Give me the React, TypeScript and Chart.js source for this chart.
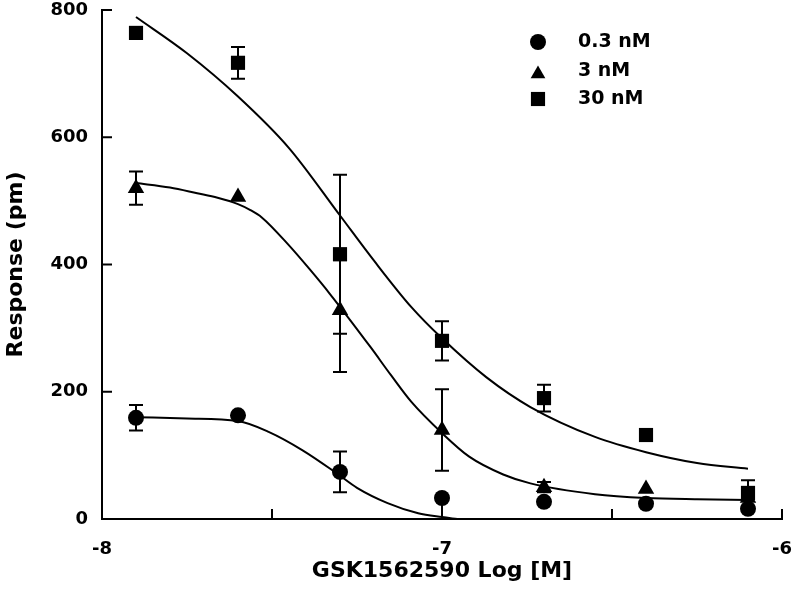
import React, { useEffect, useRef } from 'react';
import { Chart, registerables } from 'chart.js';

Chart.register(...registerables);

// ---- data ----
const doses = [-7.9, -7.6, -7.3, -7.0, -6.7, -6.4, -6.1];
const seriesLabels = ['0.3 nM', '3 nM', '30 nM'];

const resp03 = [159, 163, 74, 33, 27, 24, 16];
const errUp03 = [20, 0, 32, 0, 0, 0, 0];
const errDn03 = [20, 0, 32, 33, 0, 0, 0];

const resp3 = [520, 506, 328, 140, 50, 47, 33];
const errUp3 = [26, 0, 97, 64, 8, 0, 0];
const errDn3 = [26, 0, 97, 64, 8, 0, 0];

const resp30 = [764, 717, 416, 280, 190, 132, 41];
const errUp30 = [8, 25, 125, 31, 21, 6, 20];
const errDn30 = [8, 25, 125, 31, 21, 6, 20];

// fitted curves
const fitX03 = [-7.9, -7.75, -7.6, -7.51, -7.41, -7.31, -7.25, -7.16, -7.07, -7.0, -6.955];
const fitY03 = [160, 158, 154, 137, 108, 72, 49, 25, 9, 3, 0];
const fitX3 = [-7.9, -7.8, -7.72, -7.66, -7.6, -7.565, -7.53, -7.45, -7.39, -7.33, -7.21, -7.15, -7.09, -7.0, -6.92, -6.82, -6.74, -6.55, -6.4, -6.25, -6.1];
const fitY3 = [528, 521, 512, 505, 495, 486, 474, 430, 393, 354, 270, 226, 184, 135, 98, 70, 56, 39, 33, 31, 30];
const fitX30 = [-7.9, -7.75, -7.6, -7.45, -7.3, -7.2, -7.09, -7.0, -6.87, -6.74, -6.55, -6.4, -6.25, -6.1];
const fitY30 = [789, 732, 664, 583, 477, 406, 333, 284, 223, 176, 129, 105, 88, 79];

const xTicks = [-8, -7.5, -7, -6.5, -6];
const xTickLabels = ['-8', '', '-7', '', '-6'];
const yTicks = [0, 200, 400, 600, 800];
const yTickLabels = ['0', '200', '400', '600', '800'];

const FONT = 'DejaVu Sans';

const toPts = (xs: number[], ys: number[]) => xs.map((x, i) => ({ x, y: ys[i] }));

const errorBarsPlugin = {
  id: 'errorBars',
  beforeDatasetsDraw(chart: any) {
    const { ctx, scales } = chart;
    ctx.save();
    ctx.strokeStyle = '#000';
    ctx.lineWidth = 2;
    chart.data.datasets.forEach((ds: any) => {
      if (!ds.errUp) return;
      ds.data.forEach((p: any, i: number) => {
        const up = ds.errUp[i];
        const dn = ds.errDn[i];
        const px = scales.x.getPixelForValue(p.x);
        const ends: number[] = [];
        if (up > 0) ends.push(p.y + up);
        if (dn > 0) ends.push(p.y - dn);
        ends.forEach((v) => {
          const py0 = scales.y.getPixelForValue(p.y);
          const py1 = scales.y.getPixelForValue(v);
          ctx.beginPath();
          ctx.moveTo(px, py0);
          ctx.lineTo(px, py1);
          ctx.moveTo(px - 7, py1);
          ctx.lineTo(px + 7, py1);
          ctx.stroke();
        });
      });
    });
    ctx.restore();
  },
};

const innerTicksPlugin = {
  id: 'innerTicks',
  afterDraw(chart: any) {
    const { ctx, scales, chartArea } = chart;
    ctx.save();
    ctx.strokeStyle = '#000';
    ctx.lineWidth = 2;
    scales.x.ticks.forEach((t: any) => {
      const px = scales.x.getPixelForValue(t.value);
      ctx.beginPath();
      ctx.moveTo(px, chartArea.bottom);
      ctx.lineTo(px, chartArea.bottom - 10);
      ctx.stroke();
    });
    scales.y.ticks.forEach((t: any) => {
      const py = scales.y.getPixelForValue(t.value);
      ctx.beginPath();
      ctx.moveTo(chartArea.left, py);
      ctx.lineTo(chartArea.left + 10, py);
      ctx.stroke();
    });
    ctx.restore();
  },
};

function drawMarker(ctx: CanvasRenderingContext2D, style: string, r: number, x: number, y: number) {
  ctx.beginPath();
  if (style === 'circle') {
    ctx.arc(x, y, r, 0, Math.PI * 2);
  } else if (style === 'triangle') {
    let rad = 0;
    ctx.moveTo(x + Math.sin(rad) * r, y - Math.cos(rad) * r);
    rad += (2 * Math.PI) / 3;
    ctx.lineTo(x + Math.sin(rad) * r, y - Math.cos(rad) * r);
    rad += (2 * Math.PI) / 3;
    ctx.lineTo(x + Math.sin(rad) * r, y - Math.cos(rad) * r);
    ctx.closePath();
  } else {
    const s = Math.SQRT1_2 * r;
    ctx.rect(x - s, y - s, 2 * s, 2 * s);
  }
  ctx.fill();
}

const legendPlugin = {
  id: 'customLegend',
  afterDraw(chart: any) {
    const { ctx } = chart;
    const rows = [
      { y: 42, my: 42 },
      { y: 71, my: 74 },
      { y: 99, my: 99 },
    ];
    ctx.save();
    ctx.fillStyle = '#000';
    ctx.font = `bold 19px "${FONT}"`;
    ctx.textBaseline = 'middle';
    ctx.textAlign = 'left';
    const scatter = chart.data.datasets.filter((d: any) => d.errUp);
    scatter.forEach((ds: any, i: number) => {
      const row = rows[i];
      drawMarker(ctx, ds.pointStyle, ds.legendRadius, 538, row.my);
      ctx.fillText(ds.label, 578, row.y);
    });
    ctx.restore();
  },
};

export default function App() {
  const ref = useRef<HTMLCanvasElement | null>(null);

  useEffect(() => {
    document.body.style.margin = '0';
    const canvas = ref.current;
    if (!canvas) return;
    const lineDs = (xs: number[], ys: number[]) => ({
      type: 'line' as const,
      data: toPts(xs, ys),
      borderColor: '#000',
      borderWidth: 2,
      pointRadius: 0,
      fill: false,
      cubicInterpolationMode: 'monotone' as const,
      order: 2,
      clip: false,
    });
    const chart = new Chart(canvas, {
      type: 'scatter',
      data: {
        datasets: [
          {
            type: 'scatter',
            label: seriesLabels[0],
            data: toPts(doses, resp03),
            pointStyle: 'circle',
            pointRadius: 8,
            legendRadius: 8,
            backgroundColor: '#000',
            borderColor: '#000',
            borderWidth: 0,
            errUp: errUp03,
            errDn: errDn03,
            order: 1,
            clip: false,
          } as any,
          {
            type: 'scatter',
            label: seriesLabels[1],
            data: toPts(doses, resp3),
            pointStyle: 'triangle',
            pointRadius: 9.5,
            legendRadius: 8.5,
            backgroundColor: '#000',
            borderColor: '#000',
            borderWidth: 0,
            errUp: errUp3,
            errDn: errDn3,
            order: 0,
            clip: false,
          } as any,
          {
            type: 'scatter',
            label: seriesLabels[2],
            data: toPts(doses, resp30),
            pointStyle: 'rect',
            pointRadius: 10,
            legendRadius: 10,
            backgroundColor: '#000',
            borderColor: '#000',
            borderWidth: 0,
            errUp: errUp30,
            errDn: errDn30,
            order: -1,
            clip: false,
          } as any,
          lineDs(fitX03, fitY03) as any,
          lineDs(fitX3, fitY3) as any,
          lineDs(fitX30, fitY30) as any,
        ],
      },
      options: {
        responsive: false,
        animation: false,
        layout: { padding: 0 },
        plugins: {
          legend: { display: false },
          tooltip: { enabled: false },
        },
        scales: {
          x: {
            type: 'linear',
            min: -8,
            max: -6,
            afterBuildTicks: (s: any) => {
              s.ticks = xTicks.map((v) => ({ value: v }));
            },
            afterFit: (s: any) => {
              s.height = 86;
              s.paddingLeft = 0;
              s.paddingRight = 10;
            },
            ticks: {
              autoSkip: false,
              maxRotation: 0,
              padding: 21,
              color: '#000',
              font: { family: FONT, weight: 'bold', size: 18, lineHeight: 1 },
              callback: (_v: any, i: number) => xTickLabels[i],
            },
            grid: { display: false, drawTicks: false },
            border: { display: true, color: '#000', width: 2 },
            title: {
              display: true,
              text: 'GSK1562590 Log [M]',
              color: '#000',
              font: { family: FONT, weight: 'bold', size: 22, lineHeight: 1.2 },
              padding: { top: 0, bottom: 21 },
            },
          },
          y: {
            type: 'linear',
            min: 0,
            max: 800,
            afterBuildTicks: (s: any) => {
              s.ticks = yTicks.map((v) => ({ value: v }));
            },
            afterFit: (s: any) => {
              s.width = 102;
              s.paddingTop = 10;
              s.paddingBottom = 0;
            },
            ticks: {
              padding: 14,
              color: '#000',
              font: { family: FONT, weight: 'bold', size: 18, lineHeight: 1 },
              callback: (_v: any, i: number) => yTickLabels[i],
            },
            grid: { display: false, drawTicks: false },
            border: { display: true, color: '#000', width: 2 },
            title: {
              display: true,
              text: 'Response (pm)',
              color: '#000',
              font: { family: FONT, weight: 'bold', size: 22, lineHeight: 1.2 },
              padding: { top: 3, bottom: 0 },
            },
          },
        },
      } as any,
      plugins: [errorBarsPlugin, innerTicksPlugin, legendPlugin],
    });
    return () => chart.destroy();
  }, []);

  return (
    <div style={{ width: 792, height: 605, background: '#fff' }}>
      <canvas ref={ref} width={792} height={605} style={{ display: 'block' }} />
    </div>
  );
}
